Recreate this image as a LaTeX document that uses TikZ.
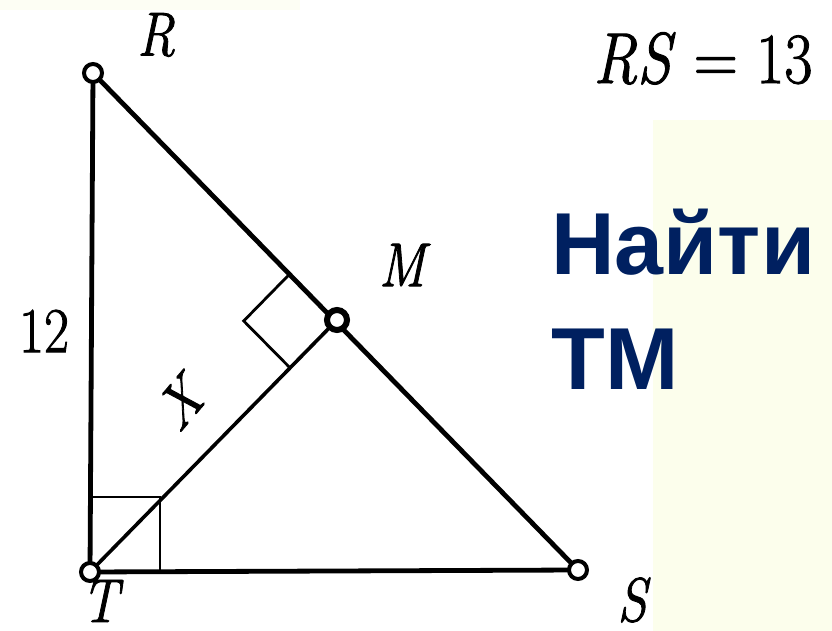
\documentclass[tikz,border=0pt]{standalone}
\usepackage{fontspec}
\newfontfamily\headfont{Liberation Sans}
\newfontfamily\scanfont{Latin Modern Roman}[FakeBold=1.5]
\usetikzlibrary{positioning, calc}
\definecolor{mynavy}{RGB}{0, 32, 96}
\definecolor{myyellow}{RGB}{252, 254, 236}

\begin{document}
\begin{tikzpicture}[x=0.5pt, y=-0.5pt,
    side/.style={line width=2.4pt},
    rightbox/.style={line width=1.4pt},
    vertex/.style={circle, draw, line width=2pt, fill=white, inner sep=0pt, minimum size=9pt},
    lbl/.style={font=\scanfont\itshape\fontsize{31}{33}\selectfont, xscale=0.85, inner sep=0pt},
    head/.style={font=\headfont\bfseries\fontsize{44}{48}\selectfont, text=mynavy, anchor=base west, inner sep=0pt}]
    \useasboundingbox (0,0) rectangle (832,631);
    \fill[myyellow] (653,120) rectangle (832,631);
    \fill[myyellow!60] (0,0) rectangle (300,10);

    \coordinate (R) at (93,73);
    \coordinate (T) at (90,572);
    \coordinate (S) at (578,570);
    \coordinate (M) at (337,320);

    % Triangle and altitude
    \draw[side] (R) -- (T) -- (S) -- cycle;
    \draw[line width=1.8pt] (T) -- (M);

    % Right angles
    \draw[rightbox] ($(T)+(0,-75)$) -- ($(T)+(70,-75)$) -- ($(T)+(70,0)$);
    \coordinate (Ma) at ($(M)!0.19!(R)$);
    \coordinate (Mb) at ($(M)!0.19!(T)$);
    \draw[rightbox] (Ma) -- ($(Ma)+(Mb)-(M)$) -- (Mb);

    \node[vertex] (vR) at (R) {};
    \node[vertex] (vT) at (T) {};
    \node[vertex] (vS) at (S) {};
    \node[vertex, line width=3pt, minimum size=10pt] (vM) at (M) {};

    % Labels
    \node[lbl] (labR) at (156,35) {R};
    \node[lbl] (labT) at (100,601) {T};
    \node[lbl] (labS) at (632,600) {S};
    \node[lbl] (labM) at (402,265) {M};
    \node[lbl, font=\scanfont\fontsize{32}{34}\selectfont, xscale=1] (lab12) at (44,331) {12};
    \node[lbl, rotate=45] (labX) at (180,403) {X};

    \node[font=\scanfont\fontsize{36}{38}\selectfont, xscale=0.85, anchor=base] (given) at (703,83) {\textit{RS} = 13};
    \node[head] (find1) at (551,275) {Найти};
    \node[head] (find2) at (551,390) {ТМ};
\end{tikzpicture}
\end{document}
